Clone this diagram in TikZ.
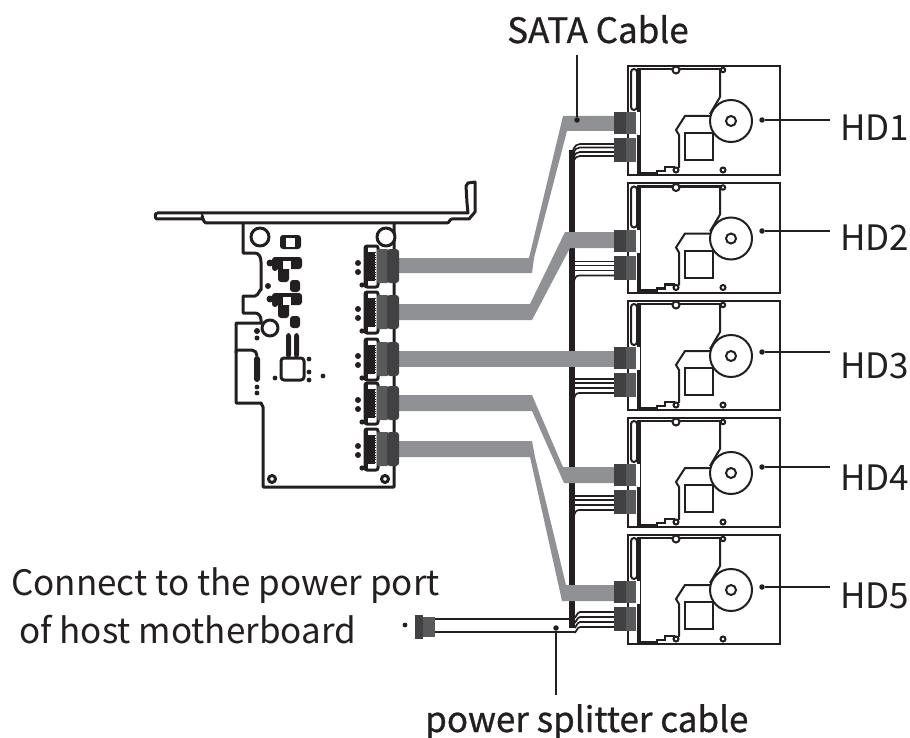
\documentclass[tikz,border=0pt]{standalone}
\usepackage{fontspec}
\usepackage{tikz}
\setmainfont{Noto Sans CJK SC}
\newfontfamily\medfont[FakeBold=0.8]{Noto Sans CJK SC}
\definecolor{inkblk}{HTML}{231F20}
\definecolor{satagray}{HTML}{8F9194}
\definecolor{plugdark}{HTML}{414042}
\definecolor{plugmid}{HTML}{58595B}

\begin{document}
\begin{tikzpicture}[x=1pt, y=-1pt]
    \tikzstyle{tag} = [anchor=base west, inner sep=0pt, font=\fontsize{35}{42}\selectfont, text=inkblk]
    \tikzstyle{leaddot} = [circle, fill=inkblk, inner sep=0pt, minimum size=5.5pt]
    \tikzstyle{leader} = [inkblk, line width=1.8pt]
    \tikzstyle{outline} = [inkblk, line width=2pt]
    \tikzstyle{pcb} = [inkblk, line width=3pt, line join=round]
    \tikzstyle{wire} = [inkblk, line width=1.7pt]
    \tikzstyle{sata} = [fill=satagray, draw=none]
    \tikzstyle{blob} = [fill=inkblk, draw=none, rounded corners=3pt]
    \useasboundingbox (0,0) rectangle (910,738);

    % trunk and power wires
    \draw[inkblk, line width=5.5pt] (572,150) -- (572,628);
    \foreach \y in {144,147.5,152,156} {
        \draw[wire] (614,\y) -- (580,\y) to[out=180, in=90] (572,\y+14);
    }
    \foreach \yy in {183.5,301,418} {
        \foreach \y in {78,82,87} {
            \draw[wire] (614,\yy+\y) -- (572,\yy+\y);
        }
        \draw[wire] (614,\yy+92) -- (579,\yy+92) to[out=180, in=90] (574,\yy+99);
    }
    \foreach \y in {612,617,622,627} {
        \draw[wire] (614,\y) -- (580,\y) to[out=180, in=-60] (574,\y+5);
    }

    % SATA cables
    \fill[sata] (398,258) -- (529,258) -- (563,116) -- (614,116) -- (614,131) -- (567,131) -- (534,258) -- (532,273) -- (398,273) -- cycle;
    \fill[sata] (398,304) -- (530,304) -- (565,232) -- (614,232) -- (614,248) -- (570,248) -- (532,320) -- (398,320) -- cycle;
    \fill[sata] (398,351) rectangle (614,367);
    \fill[sata] (398,395) -- (532,395) -- (563,467) -- (614,467) -- (614,483) -- (564,483) -- (532,411) -- (398,411) -- cycle;
    \fill[sata] (398,441) -- (532,441) -- (535,457) -- (566,585) -- (614,585) -- (614,601) -- (562,601) -- (530,457) -- (398,457) -- cycle;

    % drives
    \foreach \n/\yy/\ly/\by in {1/66/120/141, 2/183.5/231/251, 3/301/352/378, 4/418/467/490, 5/535/587/608} {
        \begin{scope}[shift={(628,\yy)}]
            \draw[outline] (0,0) rectangle (152,109);
            \draw[inkblk, line width=3.4pt] (11,2) -- (11,108);
            \draw[outline, rounded corners=3pt] (3,3) rectangle (9,44);
            \draw[inkblk, line width=2.2pt] (11,3) -- (95,3);
            \draw[outline, fill=white] (48,4) circle (3.5);
            \draw[outline, fill=white] (95,4) circle (2.2);
            \draw[outline] (92,4) -- (92,31) -- (82,48);
            \draw[outline] (103,55) circle (21);
            \draw[outline] (103,55) circle (5);
            \draw[outline] (82,50) -- (57,50) -- (48,64) -- (51,69) -- (51,101) -- (48,104);
            \draw[outline] (57,67) rectangle (85,94);
            \draw[outline, fill=white] (48,104) circle (2.5);
            \draw[outline, fill=white] (95,104) circle (2.5);
            \draw[inkblk, line width=2.4pt] (12,107) -- (29,107) -- (29,105) -- (37,105) -- (37,101) -- (46,101) -- (46,106);
            \fill[white] (12,46) rectangle (8,69);
            \fill[plugdark] (-14,46) rectangle (-2,68);
            \fill[plugmid] (-2,46) rectangle (8,68);
            \fill[plugdark] (-14,72) rectangle (-2,96);
            \fill[plugmid] (-2,72) rectangle (8,96);
        \end{scope}
        \node[leaddot] (dot\n) at (762,\ly) {};
        \coordinate (end\n) at (830,\ly);
        \draw[leader] (dot\n) -- (end\n);
        \node[tag] (hd\n) at (840,\by) {HD\n};
    }

    % card and bracket
    \draw[pcb] (243,224) -- (243,253) -- (255,253) to[out=0, in=90] (261,262) -- (261,290) to[out=90, in=0] (255,296) -- (243,296) -- (243,313) -- (255,313) to[out=0, in=90] (261,320) -- (261,323) -- (236,323) -- (236,353);
    \draw[pcb] (236,350) -- (252,350) to[out=0, in=90] (257,356);
    \draw[pcb] (236,350) -- (236,403) -- (261,403) -- (263,407) -- (263,487) -- (394,487) -- (394,224);
    \draw[pcb, fill=white] (157,213) -- (452,213) -- (468,213) -- (467,203) -- (466,186) -- (468,183) -- (475,182) -- (475,212) -- (469,219) -- (452,219) to[out=180, in=0] (447,223) -- (206,223) to[out=180, in=90] (202,216);
    \draw[pcb] (202,219) -- (157,219) to[out=180, in=180] (157,213);
    \draw[pcb] (260,237) circle (9);
    \draw[pcb, fill=white] (386,237) circle (9);
    \draw[pcb] (270,328) circle (8);
    \draw[pcb] (272,479) circle (3.5);
    \draw[pcb] (385,479) circle (3.5);

    % parts on the card
    \fill[blob] (280,235) rectangle (301,249);
    \fill[white] (286,238) rectangle (295,247);
    \foreach \y in {265,301} {
        \fill[blob] (272,\y-8) rectangle (302,\y+4);
        \fill[inkblk] (270,\y-2) circle (3.5);
        \fill[inkblk] (275,\y+3) circle (3);
        \fill[blob] (278,\y) rectangle (289,\y+17);
        \fill[blob] (290,\y+15) rectangle (300,\y+27);
        \fill[white] (283,\y-4) rectangle (291,\y+4);
    }
    \fill[inkblk] (268,286) circle (3);
    \fill[inkblk] (257,331) circle (3);
    \fill[inkblk] (257,338) circle (2.5);
    \fill[blob] (286,333) rectangle (291,358);
    \fill[blob] (294,333) rectangle (299,358);
    \fill[blob] (254,356) rectangle (260,382);
    \draw[pcb, rounded corners=3pt] (281,358) rectangle (304,380);
    \foreach \x/\y in {309/359, 309/372, 309/380, 275/378, 323/376, 257/387, 257/393} {
        \fill[inkblk] (\x,\y) circle (2.4);
    }

    % connectors on the card
    \foreach \n/\y in {1/266, 2/312, 3/359, 4/403, 5/449} {
        \draw[pcb, fill=white, rounded corners=2pt] (365,\y-20) rectangle (378,\y+21);
        \fill[inkblk] (365,\y-14) rectangle (376,\y+15);
        \fill[inkblk] (365,\y-20) rectangle (368,\y+21);
        \fill[white] (369,\y-18) rectangle (375,\y-14);
        \fill[white] (369,\y+15) rectangle (375,\y+19);
        \draw[white, densely dotted, line width=0.7pt] (375,\y-15) -- (375,\y+16);
        \fill[inkblk] (358,\y-3) circle (3);
        \fill[inkblk] (358,\y+6) circle (3);
        \fill[inkblk] (362,\y+19) circle (2.6);
        \fill[plugmid, rounded corners=1pt] (377,\y-17) rectangle (388,\y+17);
        \fill[plugdark, rounded corners=3pt] (387,\y-17) rectangle (399,\y+17);
    }

    % power splitter cable
    \draw[wire] (435,619) -- (572,619);
    \draw[wire] (435,632) -- (574,632);
    \fill[plugdark] (415,615) rectangle (423,639);
    \fill[plugmid] (423,617) rectangle (435,637);
    \fill[inkblk] (405,625) circle (2.4);

    % labels
    \node[leaddot] (satadot) at (577,120) {};
    \coordinate (sataend) at (577,55);
    \draw[leader] (satadot) -- (sataend);
    \node[tag, font=\fontsize{35}{42}\medfont] (satalabel) at (507,43) {SATA Cable};
    \node[leaddot] (splitdot) at (556,628) {};
    \coordinate (splitend) at (556,695);
    \draw[leader] (splitdot) -- (splitend);
    \node[tag, font=\fontsize{35}{42}\medfont] (splitlabel) at (425,732) {power splitter cable};
    \node[tag] (hostone) at (11,595) {Connect to the power port};
    \node[tag] (hosttwo) at (19,643) {of host motherboard};
\end{tikzpicture}
\end{document}
